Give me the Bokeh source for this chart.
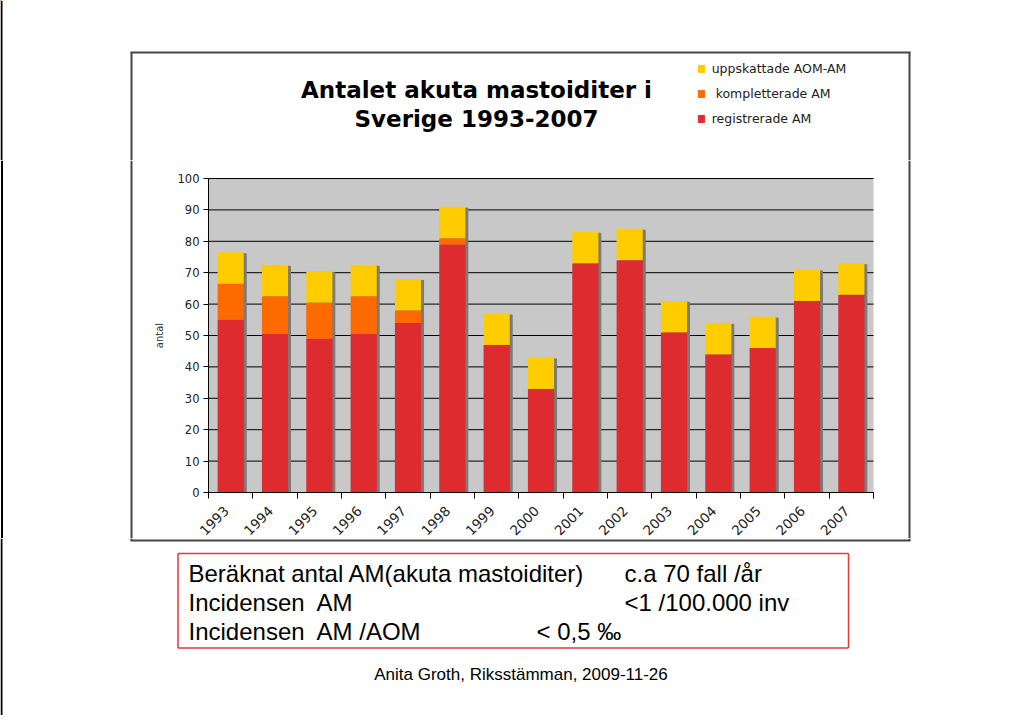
import math
from bokeh.plotting import figure
from bokeh.layouts import column
from bokeh.models import (Range1d, FixedTicker, Label, Legend, LegendItem,
                          ColumnDataSource, Span)
from bokeh.transform import dodge
from bokeh.embed import file_html
from bokeh.resources import INLINE

# ---- data ----
years = [1993, 1994, 1995, 1996, 1997, 1998, 1999, 2000,
         2001, 2002, 2003, 2004, 2005, 2006, 2007]
registrerade = [55, 50.5, 49, 50.5, 54, 79, 47, 33, 73, 74, 51, 44, 46, 61, 63]
kompletterade = [11.5, 12, 11.5, 12, 4, 2, 0, 0, 0, 0, 0, 0, 0, 0, 0]
uppskattade = [10, 10, 10, 10, 10, 10, 10, 10, 10, 10, 10, 10, 10, 10, 10]
series_names = ["registrerade AM", "\u00a0kompletterade AM", "uppskattade AOM-AM"]
y_ticks = [0, 10, 20, 30, 40, 50, 60, 70, 80, 90, 100]

RED = "#DD2B30"
ORANGE = "#FF6A00"
YELLOW = "#FFCC00"
COLORS = [RED, ORANGE, YELLOW]
FRAME_C = "#454545"

# ---------------- page grid (pixels) ----------------
W, H = 1016, 715
ROW = [0, 160, 538, H]
BOX = dict(l=131, r=909, t=52, b=540)
AREA = dict(l=208, r=873, t=178, b=492)   # plotting area of the bar chart (pixels)


def deco(x0, x1, y0, y1):
    f = figure(width=x1 - x0, height=y1 - y0,
               x_range=Range1d(x0, x1), y_range=Range1d(y1, y0),
               x_axis_location=None, y_axis_location=None,
               output_backend="svg", toolbar_location=None,
               min_border=0, min_border_left=0, min_border_right=0,
               min_border_top=0, min_border_bottom=0)
    f.outline_line_color = None
    f.grid.visible = False
    f.background_fill_color = "white"
    f.border_fill_color = "white"
    return f


def vline(f, x, y0, y1, color=FRAME_C, width=2):
    f.segment(x0=[x], y0=[y0], x1=[x], y1=[y1], line_color=color, line_width=width)


def hline(f, y, x0, x1, color=FRAME_C, width=2):
    f.segment(x0=[x0], y0=[y], x1=[x1], y1=[y], line_color=color, line_width=width)


# ---------------- chart (middle strip, frame = whole strip, axes fixed inside) ----------------
idx = list(range(len(years)))
XMIN, XMAX = -0.5, len(years) - 0.5
YMIN, YMAX = y_ticks[0], y_ticks[-1]
kx = (XMAX - XMIN) / (AREA["r"] - AREA["l"])      # data units per pixel
ky = (YMAX - YMIN) / (AREA["b"] - AREA["t"])
x_range = Range1d(XMIN - AREA["l"] * kx, XMAX + (W - AREA["r"]) * kx)
y_range = Range1d(YMIN - (ROW[2] - AREA["b"]) * ky, YMAX + (AREA["t"] - ROW[1]) * ky)

totals = [a + b + c for a, b, c in zip(registrerade, kompletterade, uppskattade)]
source = ColumnDataSource(dict(
    x=idx,
    registrerade=registrerade,
    kompletterade=kompletterade,
    uppskattade=uppskattade,
    shadow_top=[t - 0.45 for t in totals],
))

p = figure(width=W, height=ROW[2] - ROW[1], x_range=x_range, y_range=y_range,
           output_backend="svg", toolbar_location=None,
           min_border=0, min_border_left=0, min_border_right=0,
           min_border_top=0, min_border_bottom=0)
p.outline_line_color = None
p.background_fill_color = "white"
p.border_fill_color = "white"
p.grid.visible = False

# grey plotting area and horizontal grid lines
p.quad(left=[XMIN], right=[XMAX], bottom=[YMIN], top=[YMAX],
       fill_color="#C8C8C8", line_color=None)
p.segment(x0=[XMIN] * len(y_ticks), x1=[XMAX] * len(y_ticks), y0=y_ticks, y1=y_ticks,
          line_color="black", line_width=1)

p.vbar(x=dodge("x", 0.055), top="shadow_top", bottom=0, width=0.59,
       color="#7A7A7A", source=source)
rs = p.vbar_stack(["registrerade", "kompletterade", "uppskattade"], x="x",
                  width=0.59, color=COLORS, line_color=None, source=source)

ya = p.yaxis[0]
ya.fixed_location = XMIN
ya.bounds = (YMIN, YMAX)
ya.ticker = FixedTicker(ticks=y_ticks)
ya.axis_line_color = "black"
ya.major_tick_line_color = "black"
ya.major_tick_out = 5
ya.major_tick_in = 0
ya.minor_tick_line_color = None
ya.major_label_standoff = 4
ya.major_label_text_font = "DejaVu Sans"
ya.major_label_text_font_size = "11.5px"
ya.major_label_text_color = "#222222"
ya.axis_label = "antal"
ya.axis_label_text_font = "DejaVu Sans"
ya.axis_label_text_font_size = "10px"
ya.axis_label_text_font_style = "normal"
ya.axis_label_text_color = "#333333"
ya.axis_label_standoff = 10

label_pos = [round(i - 0.1, 1) for i in idx]
xa = p.xaxis[0]
xa.fixed_location = YMIN
xa.bounds = (XMIN, XMAX)
xa.ticker = FixedTicker(ticks=label_pos,
                        minor_ticks=[i - 0.5 for i in range(len(years) + 1)])
xa.major_label_overrides = {t: str(y) for t, y in zip(label_pos, years)}
xa.major_label_orientation = math.pi / 4
xa.axis_line_color = "black"
xa.major_tick_line_color = None
xa.major_tick_out = 0
xa.major_tick_in = 0
xa.minor_tick_line_color = "black"
xa.minor_tick_out = 6
xa.minor_tick_in = 0
xa.major_label_standoff = 10
xa.major_label_text_font = "DejaVu Sans"
xa.major_label_text_font_size = "13.5px"
xa.major_label_text_color = "#222222"

# side edges of the chart box and the page edge in this strip
for sx, c in [(1.5, "black"), (BOX["l"], FRAME_C), (BOX["r"], FRAME_C)]:
    p.add_layout(Span(location=sx, location_units="screen", dimension="height",
                      line_color=c, line_width=2))

# ---------------- top strip: frame top, title, legend ----------------
top = deco(0, W, ROW[0], ROW[1])
vline(top, 1, ROW[0], ROW[1], "black", 2)
hline(top, BOX["t"], BOX["l"] - 1, BOX["r"] + 1)
vline(top, BOX["l"], BOX["t"], ROW[1])
vline(top, BOX["r"], BOX["t"], ROW[1])
for txt, yy in [("Antalet akuta mastoiditer i", 89), ("Sverige 1993-2007", 118)]:
    top.add_layout(Label(x=476, y=yy, text=txt,
                         text_align="center", text_baseline="middle",
                         text_font="DejaVu Sans", text_font_style="bold",
                         text_font_size="23px", text_color="black"))
# legend swatches: renderers with a single zero-height bar outside the strip
dummies = [top.vbar(x=[-50], top=[0], bottom=[0], width=1, color=c) for c in COLORS]
legend = Legend(items=[LegendItem(label=series_names[i], renderers=[dummies[i]])
                       for i in (2, 1, 0)],
                location=(696.7, ROW[1] - 125.5), orientation="vertical",
                glyph_width=8, glyph_height=9, label_height=9, spacing=10,
                label_standoff=7, padding=0, margin=0,
                border_line_color=None, background_fill_alpha=0,
                label_text_font="DejaVu Sans", label_text_font_size="12.5px",
                label_text_color="#222222")
top.add_layout(legend)

# ---------------- bottom strip: frame bottom, info box, footer ----------------
bot = deco(0, W, ROW[2], ROW[3])
vline(bot, 1, ROW[2], ROW[3], "black", 2)
vline(bot, BOX["l"], ROW[2], BOX["b"])
vline(bot, BOX["r"], ROW[2], BOX["b"])
hline(bot, BOX["b"], BOX["l"] - 1, BOX["r"] + 1)

RB = dict(l=177.5, r=848, t=553, b=647.5)
INFO_C = "#E5373C"
hline(bot, RB["t"], RB["l"], RB["r"], INFO_C, 1.5)
hline(bot, RB["b"], RB["l"], RB["r"], INFO_C, 1.5)
vline(bot, RB["l"], RB["t"], RB["b"], INFO_C, 1.5)
vline(bot, RB["r"], RB["t"], RB["b"], INFO_C, 1.5)

info = [
    ("Beräknat antal AM(akuta mastoiditer)", 188, 573),
    ("c.a 70 fall /år", 624, 573),
    ("Incidensen\u00a0 AM", 188, 602),
    ("<1 /100.000 inv", 624, 602),
    ("Incidensen\u00a0 AM /AOM", 188, 631),
    ("< 0,5 ‰", 536, 631),
]
for txt, xx, yy in info:
    bot.add_layout(Label(x=xx, y=yy, text=txt,
                         text_align="left", text_baseline="middle",
                         text_font="Liberation Sans", text_font_size="24px",
                         text_color="black"))
bot.add_layout(Label(x=520.5, y=674, text="Anita Groth, Riksstämman, 2009-11-26",
                     text_align="center", text_baseline="middle",
                     text_font="Liberation Sans", text_font_size="17px",
                     text_color="black"))

layout = column(top, p, bot, spacing=0)
open("out.html", "w").write(file_html(layout, INLINE))
